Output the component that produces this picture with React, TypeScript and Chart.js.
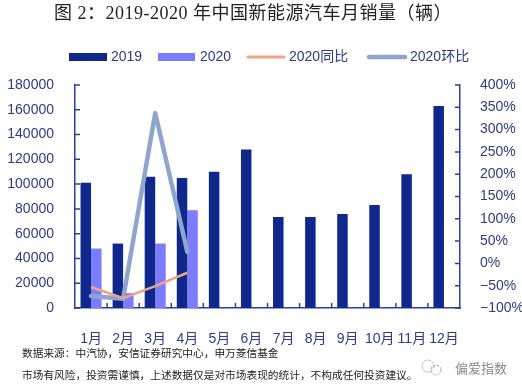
import React, { useEffect, useRef } from 'react';
import { Chart, registerables } from 'chart.js';

Chart.register(...registerables);

const months = ['1月', '2月', '3月', '4月', '5月', '6月', '7月', '8月', '9月', '10月', '11月', '12月'];
const sales2019 = [101000, 52000, 106000, 105000, 110000, 128000, 73400, 73400, 75900, 83100, 108000, 163000];
const sales2020 = [48000, 12000, 52000, 79000, null, null, null, null, null, null, null, null];
const yoy2020 = [-53, -78, -51, -21, null, null, null, null, null, null, null, null];
const mom2020 = [-73, -79, 337, 26, null, null, null, null, null, null, null, null];

const titleText = '图 2：2019-2020 年中国新能源汽车月销量（辆）';
const sourceText = '数据来源：中汽协，安信证券研究中心，申万菱信基金';
const riskText = '市场有风险，投资需谨慎，上述数据仅是对市场表现的统计，不构成任何投资建议。';
const watermarkText = '偏爱指数';

const C2019 = '#10288c';
const C2020 = '#7b7cff';
const CYOY = '#f0a384';
const CMOM = '#8fa5cb';
const AXIS = '#2c3f9c';
const LABEL = '#2e3a8a';
const FONT = '"Liberation Sans", "Noto Sans CJK SC", sans-serif';

const decorPlugin = {
  id: 'decor',
  afterDraw(chart: any) {
    const ctx = chart.ctx;
    const x = chart.scales.x;
    const y = chart.scales.y;
    const y1 = chart.scales.y1;
    const area = chart.chartArea;
    ctx.save();
    // inward ticks
    ctx.strokeStyle = AXIS;
    ctx.lineWidth = 1.5;
    ctx.beginPath();
    y.ticks.forEach((t: any) => {
      const py = y.getPixelForValue(t.value);
      ctx.moveTo(area.left, py);
      ctx.lineTo(area.left + 5, py);
    });
    y1.ticks.forEach((t: any) => {
      const py = y1.getPixelForValue(t.value);
      ctx.moveTo(area.right - 5, py);
      ctx.lineTo(area.right, py);
    });
    const n = months.length;
    const w = (area.right - area.left) / n;
    for (let i = 1; i < n; i++) {
      const px = area.left + w * i;
      ctx.moveTo(px, area.bottom);
      ctx.lineTo(px, area.bottom - 5);
    }
    ctx.stroke();

    // title
    ctx.fillStyle = '#222';
    ctx.font = '18px "Liberation Serif", "Noto Sans CJK SC", serif';
    try { ctx.letterSpacing = '0.5px'; } catch (e) {}
    ctx.textAlign = 'center';
    ctx.textBaseline = 'middle';
    ctx.fillText(titleText, 253, 14);
    try { ctx.letterSpacing = '0px'; } catch (e) {}

    // legend
    ctx.textAlign = 'left';
    ctx.font = '14px ' + FONT;
    const ly = 57;
    ctx.fillStyle = C2019;
    ctx.fillRect(69, ly - 4, 38, 8);
    ctx.fillStyle = LABEL;
    ctx.fillText('2019', 111, ly);
    ctx.fillStyle = C2020;
    ctx.fillRect(158, ly - 4, 37, 8);
    ctx.fillStyle = LABEL;
    ctx.fillText('2020', 200, ly);
    ctx.lineCap = 'round';
    ctx.strokeStyle = CYOY;
    ctx.lineWidth = 3;
    ctx.beginPath();
    ctx.moveTo(248, ly);
    ctx.lineTo(284, ly);
    ctx.stroke();
    ctx.fillStyle = LABEL;
    ctx.fillText('2020同比', 289, ly);
    ctx.strokeStyle = CMOM;
    ctx.lineWidth = 4.5;
    ctx.beginPath();
    ctx.moveTo(369, ly);
    ctx.lineTo(405, ly);
    ctx.stroke();
    ctx.fillStyle = LABEL;
    ctx.fillText('2020环比', 410, ly);

    // footer
    ctx.fillStyle = '#222';
    ctx.font = '10.7px "Noto Sans CJK SC", sans-serif';
    ctx.fillText(sourceText, 22, 353);
    ctx.fillText(riskText, 22, 375);

    // watermark
    ctx.strokeStyle = '#aaa';
    ctx.lineWidth = 1;
    ctx.setLineDash([2, 2]);
    ctx.beginPath();
    ctx.arc(428, 366, 6, 0, Math.PI * 2);
    ctx.stroke();
    ctx.beginPath();
    ctx.arc(436, 370, 5, 0, Math.PI * 2);
    ctx.stroke();
    ctx.setLineDash([]);
    ctx.fillStyle = '#8a8a8a';
    ctx.font = '13px "Noto Sans CJK SC", sans-serif';
    ctx.fillText(watermarkText, 455, 368);
    ctx.restore();
  },
};

export default function App() {
  const ref = useRef<HTMLCanvasElement>(null);
  useEffect(() => {
    document.body.style.margin = '0';
    const chart = new Chart(ref.current as HTMLCanvasElement, {
      type: 'bar',
      data: {
        labels: months,
        datasets: [
          {
            type: 'bar',
            label: '2019',
            data: sales2019,
            backgroundColor: C2019,
            yAxisID: 'y',
            order: 2,
            categoryPercentage: 0.655,
            barPercentage: 1,
          },
          {
            type: 'bar',
            label: '2020',
            data: sales2020,
            backgroundColor: C2020,
            yAxisID: 'y',
            order: 3,
            categoryPercentage: 0.655,
            barPercentage: 1,
          },
          {
            type: 'line',
            label: '2020同比',
            data: yoy2020,
            borderColor: CYOY,
            backgroundColor: CYOY,
            borderWidth: 2.5,
            pointRadius: 0,
            yAxisID: 'y1',
            order: 0,
            spanGaps: false,
          },
          {
            type: 'line',
            label: '2020环比',
            data: mom2020,
            borderColor: CMOM,
            backgroundColor: CMOM,
            borderWidth: 4.5,
            pointRadius: 0,
            yAxisID: 'y1',
            order: 1,
            borderCapStyle: 'round',
            borderJoinStyle: 'round',
          },
        ] as any,
      },
      options: {
        animation: false,
        responsive: false,
        maintainAspectRatio: false,
        layout: { padding: { top: 85, left: 0, right: 0, bottom: 0 } },
        plugins: {
          legend: { display: false },
          title: { display: false },
          tooltip: { enabled: false },
        },
        scales: {
          x: {
            grid: { display: false },
            border: { display: true, color: AXIS, width: 1.5 },
            ticks: { color: LABEL, font: { size: 14, family: FONT }, padding: 15, maxRotation: 0, autoSkip: false },
            afterFit: (s: any) => {
              s.height = 83;
            },
          },
          y: {
            position: 'left',
            min: 0,
            max: 180000,
            grid: { display: false },
            border: { display: true, color: AXIS, width: 1.5 },
            ticks: {
              stepSize: 20000,
              color: LABEL,
              font: { size: 14, family: FONT },
              padding: 13,
              callback: (v: any) => String(v),
            },
            afterFit: (s: any) => {
              s.width = 75;
            },
          },
          y1: {
            position: 'right',
            min: -100,
            max: 400,
            grid: { display: false },
            border: { display: true, color: AXIS, width: 1.5 },
            ticks: {
              stepSize: 50,
              color: LABEL,
              font: { size: 14, family: FONT },
              padding: 12,
              callback: (v: any) => (v < 0 ? '\u2212' + Math.abs(v) : v) + '%',
            },
            afterFit: (s: any) => {
              s.width = 62;
            },
          },
        },
      } as any,
      plugins: [decorPlugin],
    });
    return () => chart.destroy();
  }, []);
  return (
    <div style={{ position: 'absolute', left: 0, top: 0, width: 522, height: 391, background: '#fff' }}>
      <canvas ref={ref} width={522} height={391} style={{ width: 522, height: 391, display: 'block' }} />
    </div>
  );
}
